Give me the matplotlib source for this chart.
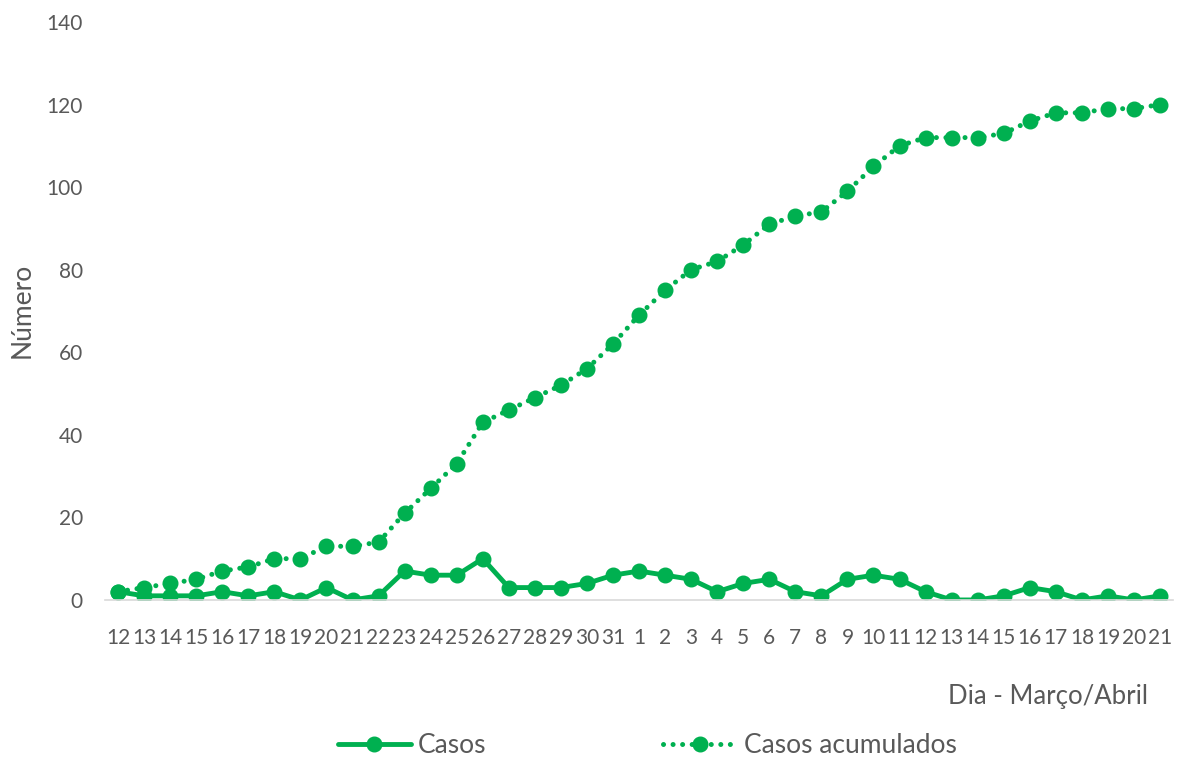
import numpy as np
import matplotlib
matplotlib.use("Agg")
import matplotlib.pyplot as plt

# days March 12-31 and April 1-21
dias = [str(d) for d in range(12, 32)] + [str(d) for d in range(1, 22)]
casos = [2, 1, 1, 1, 2, 1, 2, 0, 3, 0, 1, 7, 6, 6, 10, 3, 3, 3, 4, 6,
         7, 6, 5, 2, 4, 5, 2, 1, 5, 6, 5, 2, 0, 0, 1, 3, 2, 0, 1, 0, 1]
acumulados = [2, 3, 4, 5, 7, 8, 10, 10, 13, 13, 14, 21, 27, 33, 43, 46, 49, 52, 56, 62,
              69, 75, 80, 82, 86, 91, 93, 94, 99, 105, 110, 112, 112, 112, 113, 116, 118, 118, 119, 119, 120]
yticks = [0, 20, 40, 60, 80, 100, 120, 140]

verde = "#00B050"
cinza = "#595959"
plt.rcParams["font.family"] = ["Lato", "DejaVu Sans"]

fig = plt.figure(figsize=(11.83, 7.58), dpi=100)
ax = fig.add_axes([0.0888, 0.2085, 0.9028, 0.7625])

x = np.arange(len(dias))
ax.plot(x, casos, color=verde, lw=3.5, marker="o", ms=10.5, label="Casos",
        solid_capstyle="round")
ax.plot(x, acumulados, color=verde, lw=3.6, marker="o", ms=10.5,
        linestyle=(0, (0.01, 1.9)), dash_capstyle="round", label="Casos acumulados")

ax.set_xlim(-0.5, len(dias) - 0.5)
ax.set_ylim(0, 140)
ax.set_yticks(yticks)
ax.set_xticks(x)
ax.set_xticklabels(dias)
ax.tick_params(axis="both", length=0, labelsize=15, colors=cinza)
ax.tick_params(axis="x", pad=20)
ax.tick_params(axis="y", pad=16)
for s in ["top", "right", "left"]:
    ax.spines[s].set_visible(False)
ax.spines["bottom"].set_color("#D9D9D9")
ax.spines["bottom"].set_linewidth(1.2)

fig.text(0.0186, 0.591, "Número", rotation=90, ha="center", va="center",
         fontsize=19, color=cinza)
fig.text(0.9704, 0.0805, "Dia - Março/Abril", ha="right", va="center",
         fontsize=18.5, color=cinza)

fig.legend(loc="center", bbox_to_anchor=(0.547, 0.016), ncol=2, frameon=False,
           fontsize=19, handlelength=2.8, columnspacing=6.7, handletextpad=0.25,
           labelcolor=cinza)

fig.savefig("out.png", dpi=100)
